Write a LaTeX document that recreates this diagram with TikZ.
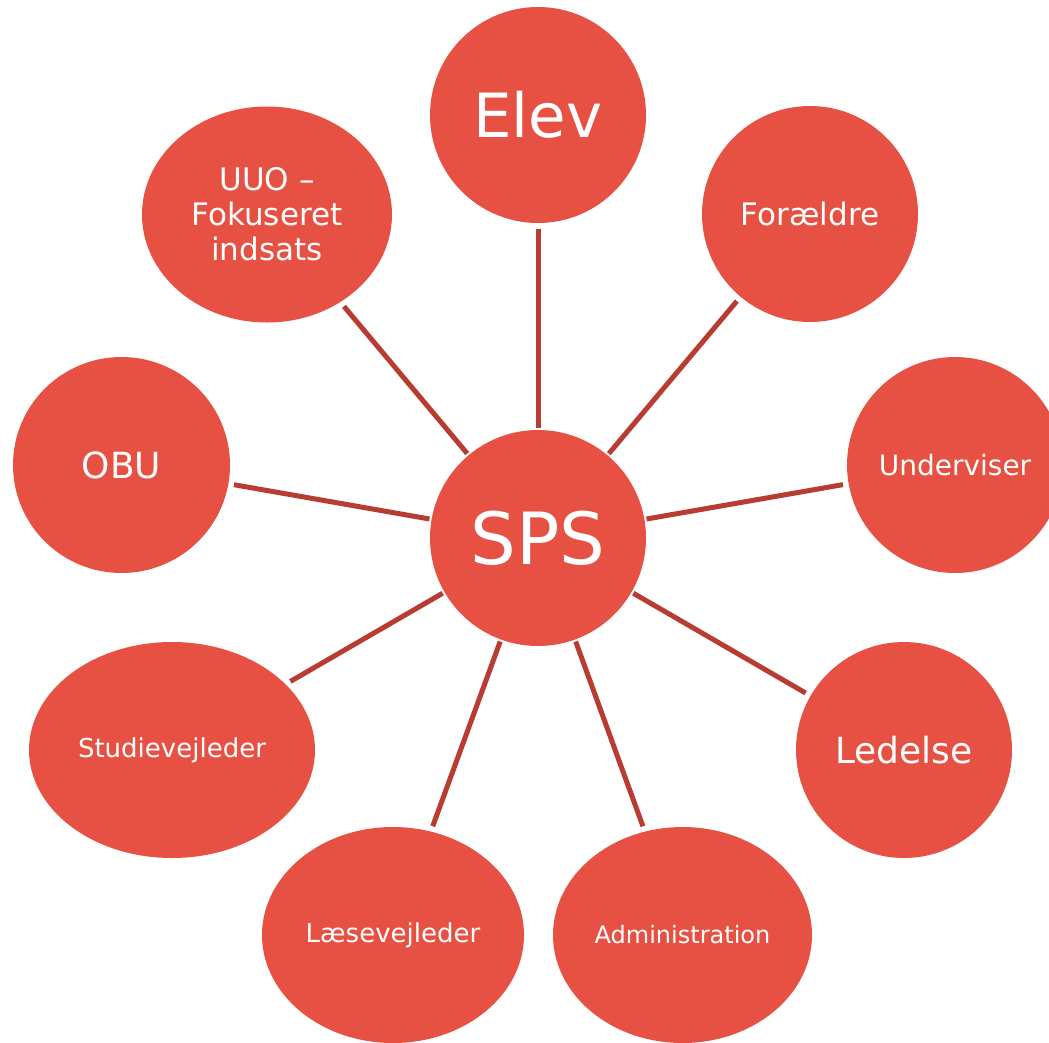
\documentclass[tikz,border=0pt]{standalone}
\usepackage{fontspec}
\setmainfont{DejaVu Sans}
\usetikzlibrary{shapes.geometric}
\definecolor{bub}{RGB}{231,81,67}
\definecolor{con}{RGB}{184,60,49}
\begin{document}
\begin{tikzpicture}[x=1pt,y=-1pt,
  bubble/.style={ellipse,fill=bub,draw=none,inner sep=0pt,text=white,align=center},
  link/.style={draw=con,line width=5pt,shorten <=2pt,shorten >=5.5pt}]
\useasboundingbox (0,0) rectangle (1049,1042);
\node[bubble,minimum width=216pt,minimum height=216pt,font=\fontsize{72}{80}\selectfont] (sps) at (538,538) {SPS};
\node[bubble,minimum width=216pt,minimum height=216pt,font=\fontsize{61}{70}\selectfont] (elev) at (538,115) {Elev};
\node[bubble,minimum width=216pt,minimum height=216pt,font=\fontsize{31}{35}\selectfont] (for) at (810,214) {Forældre};
\node[bubble,minimum width=216pt,minimum height=216pt,font=\fontsize{28}{32}\selectfont] (und) at (955,465) {Underviser};
\node[bubble,minimum width=216pt,minimum height=216pt,font=\fontsize{36}{40}\selectfont] (led) at (904,750) {Ledelse};
\node[bubble,minimum width=259pt,minimum height=216pt,font=\fontsize{24}{28}\selectfont] (adm) at (682.5,935) {Administration};
\node[bubble,minimum width=262pt,minimum height=216pt,font=\fontsize{26}{30}\selectfont] (laes) at (393,935) {Læsevejleder};
\node[bubble,minimum width=286pt,minimum height=216pt,font=\fontsize{26}{30}\selectfont] (stu) at (172,750) {Studievejleder};
\node[bubble,minimum width=217pt,minimum height=216pt,font=\fontsize{36}{40}\selectfont] (obu) at (121.5,465) {OBU};
\node[bubble,minimum width=250pt,minimum height=216pt,font=\fontsize{31}{35}\selectfont] (uuo) at (267,214.5) {UUO –\\Fokuseret\\indsats};
\foreach \t in {elev,for,und,led,adm,laes,stu,obu,uuo}
  \draw[link] (sps) -- (\t);
\end{tikzpicture}
\end{document}
